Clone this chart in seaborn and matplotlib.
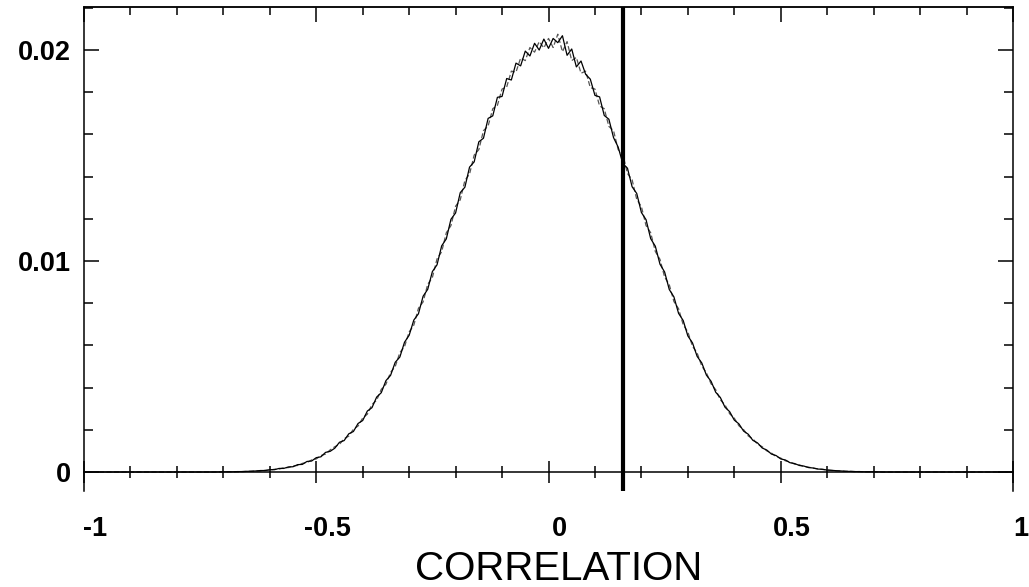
import numpy as np
import pandas as pd
import matplotlib
matplotlib.use("Agg")
import matplotlib.pyplot as plt
import matplotlib.transforms as mtransforms
from matplotlib.ticker import MultipleLocator
import seaborn as sns

# ---- data ----
corr = [-1.00, -0.90, -0.80, -0.72,
        -0.70, -0.69, -0.68, -0.67, -0.66, -0.65, -0.64, -0.63, -0.62, -0.61,
        -0.60, -0.59, -0.58, -0.57, -0.56, -0.55, -0.54, -0.53, -0.52, -0.51,
        -0.50, -0.49, -0.48, -0.47, -0.46, -0.45, -0.44, -0.43, -0.42, -0.41,
        -0.40, -0.39, -0.38, -0.37, -0.36, -0.35, -0.34, -0.33, -0.32, -0.31,
        -0.30, -0.29, -0.28, -0.27, -0.26, -0.25, -0.24, -0.23, -0.22, -0.21,
        -0.20, -0.19, -0.18, -0.17, -0.16, -0.15, -0.14, -0.13, -0.12, -0.11,
        -0.10, -0.09, -0.08, -0.07, -0.06, -0.05, -0.04, -0.03, -0.02, -0.01,
        0.00,
        0.01, 0.02, 0.03, 0.04, 0.05, 0.06, 0.07, 0.08, 0.09, 0.10,
        0.11, 0.12, 0.13, 0.14, 0.15, 0.16, 0.17, 0.18, 0.19, 0.20,
        0.21, 0.22, 0.23, 0.24, 0.25, 0.26, 0.27, 0.28, 0.29, 0.30,
        0.31, 0.32, 0.33, 0.34, 0.35, 0.36, 0.37, 0.38, 0.39, 0.40,
        0.41, 0.42, 0.43, 0.44, 0.45, 0.46, 0.47, 0.48, 0.49, 0.50,
        0.51, 0.52, 0.53, 0.54, 0.55, 0.56, 0.57, 0.58, 0.59, 0.60,
        0.61, 0.62, 0.63, 0.64, 0.65, 0.66, 0.67, 0.68, 0.69, 0.70,
        0.72, 0.80, 0.90, 1.00]

# densities in units of 1e-5
dens_solid_e5 = [0, 0, 0, 0,
                 1, 1, 1, 2, 2, 3, 4, 5, 7, 7,
                 11, 11, 17, 17, 24, 25, 35, 36, 50, 52,
                 68, 72, 93, 98, 113, 141, 149, 181, 192, 230,
                 244, 289, 305, 355, 376, 433, 458, 520, 545, 615,
                 648, 720, 750, 833, 866, 950, 982, 1072, 1105, 1198,
                 1228, 1324, 1350, 1445, 1470, 1565, 1582, 1676, 1688, 1776,
                 1780, 1865, 1858, 1938, 1925, 1995, 1972, 2032, 2000, 2052,
                 2008,
                 2055, 2035, 2068, 1975, 2005, 1920, 1948, 1885, 1862, 1785,
                 1778, 1690, 1672, 1585, 1540, 1462, 1440, 1352, 1320, 1230,
                 1196, 1106, 1070, 985, 948, 865, 830, 752, 718, 645,
                 612, 548, 517, 459, 430, 378, 353, 307, 286, 246,
                 228, 194, 179, 150, 138, 114, 104, 85, 78, 62,
                 57, 44, 40, 31, 28, 21, 19, 14, 13, 9,
                 8, 6, 5, 3, 3, 2, 2, 1, 1, 1,
                 0, 0, 0, 0]

dens_dashed_e5 = [0, 0, 0, 0,
                  1, 1, 1, 1, 2, 3, 3, 5, 5, 8,
                  9, 13, 14, 20, 21, 29, 31, 41, 45, 57,
                  62, 78, 85, 105, 120, 131, 158, 170, 203, 218,
                  256, 274, 320, 340, 392, 416, 472, 500, 566, 594,
                  664, 696, 776, 806, 890, 922, 1010, 1044, 1134, 1168,
                  1260, 1290, 1382, 1412, 1502, 1528, 1618, 1640, 1722, 1738,
                  1815, 1825, 1900, 1895, 1962, 1950, 2012, 1990, 2040, 2010,
                  2055,
                  2012, 2075, 1992, 2040, 1950, 1965, 1890, 1900, 1822, 1815,
                  1735, 1722, 1638, 1618, 1528, 1505, 1415, 1385, 1292, 1258,
                  1168, 1134, 1045, 1008, 924, 888, 808, 774, 698, 664,
                  596, 564, 502, 470, 418, 390, 342, 318, 276, 255,
                  219, 201, 171, 157, 132, 120, 100, 90, 73, 66,
                  53, 48, 37, 34, 26, 23, 18, 15, 12, 10,
                  7, 6, 5, 4, 3, 2, 2, 1, 1, 1,
                  0, 0, 0, 0]

observed_r = 0.16

xticks = [-1, -0.5, 0, 0.5, 1]
xticklabels = ["-1", "-0.5", "0", "0.5", "1"]
yticks = [0, 0.01, 0.02]
yticklabels = ["0", "0.01", "0.02"]

# ---- style ----
sns.set_theme(style="ticks")
plt.rcParams['font.family'] = ['Liberation Sans', 'DejaVu Sans']

df = pd.DataFrame({
    "corr": corr + corr,
    "dens": np.array(dens_dashed_e5 + dens_solid_e5) * 1e-5,
    "series": ["dashed"] * len(corr) + ["solid"] * len(corr),
})

fig = plt.figure(figsize=(10.29, 5.87), dpi=100)
ax = fig.add_axes([84 / 1029, 1 - 491 / 587, (1013 - 84) / 1029, (491 - 7) / 587])

sns.lineplot(data=df, x="corr", y="dens", hue="series", style="series",
             palette={"dashed": "#555555", "solid": "black"},
             dashes={"dashed": (4, 2), "solid": ""},
             linewidth=0.9, legend=False, sort=False, ax=ax)

ax.axvline(observed_r, color="black", lw=3)

ax.set_xlim(-1, 1)
ax.set_ylim(-0.0009, 0.02204)

for s in ax.spines.values():
    s.set_visible(True)
    s.set_linewidth(1.1)
    s.set_color("black")
ax.spines['bottom'].set_position(('data', 0))

ax.set_xticks(xticks, xticklabels)
ax.set_yticks(yticks, yticklabels)
ax.xaxis.set_minor_locator(MultipleLocator(0.1))
ax.yaxis.set_minor_locator(MultipleLocator(0.002))

ax.tick_params(axis='x', which='both', bottom=True, top=False, direction='inout',
               width=1.1, color='black')
ax.tick_params(axis='x', which='major', length=15.8, pad=24,
               labelsize=19.5, labelcolor='black')
ax.tick_params(axis='x', which='minor', length=8)
ax.tick_params(axis='y', which='both', left=True, right=True, direction='in',
               width=1.1, color='black')
ax.tick_params(axis='y', which='major', length=10.8, pad=9.5,
               labelsize=19.5, labelcolor='black')
ax.tick_params(axis='y', which='minor', length=6.5)

# top ticks pointing inward
secax = ax.secondary_xaxis('top')
secax.set_xticks(xticks)
secax.xaxis.set_minor_locator(MultipleLocator(0.1))
secax.tick_params(axis='x', which='both', direction='in', width=1.1, color='black',
                  labeltop=False)
secax.tick_params(axis='x', which='major', length=10.8)
secax.tick_params(axis='x', which='minor', length=6)
secax.spines['top'].set_linewidth(1.1)

for lab in ax.get_xticklabels() + ax.get_yticklabels():
    lab.set_fontweight('bold')

# labels sit a little right of their ticks in the original
xlabs = ax.get_xticklabels()
for i, lab in enumerate(xlabs):
    shift = 8 if i == len(xlabs) - 1 else 11
    off = mtransforms.ScaledTranslation(shift / 100, 0, fig.dpi_scale_trans)
    lab.set_transform(lab.get_transform() + off)

ax.set_xlabel("CORRELATION", fontsize=29, color='black')
ax.set_ylabel("")
ax.xaxis.set_label_coords(0.511, -0.122)

fig.savefig("out.png", dpi=100)
